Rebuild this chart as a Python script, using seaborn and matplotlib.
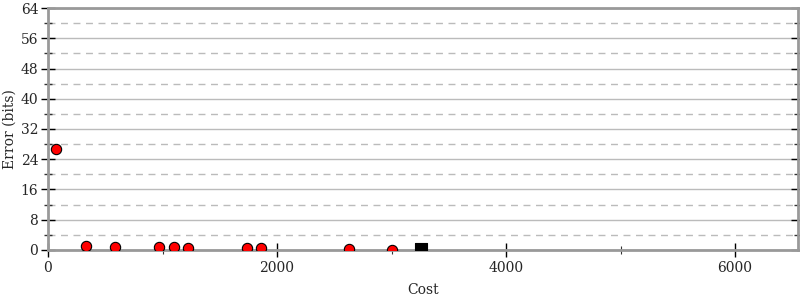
import matplotlib
matplotlib.use("Agg")
import matplotlib.pyplot as plt
import seaborn as sns
import pandas as pd
from matplotlib.ticker import MultipleLocator

sns.set_style("white")
plt.rcParams['font.family'] = ['DejaVu Serif']

cost = [70, 332, 585, 969, 1100, 1223, 1738, 1860, 2629, 3004]
error = [26.7, 1.0, 0.8, 0.7, 0.7, 0.6, 0.5, 0.4, 0.3, 0.0]
best_cost = [3258]
best_error = [0.3]

df = pd.DataFrame({"Cost": cost, "Error": error})
dfb = pd.DataFrame({"Cost": best_cost, "Error": best_error})

fig = plt.figure(figsize=(8, 3), dpi=100)
ax = fig.add_axes([0.06, 0.1667, 0.9375, 0.8066])

ax.set_xlim(0, 6550)
ax.set_ylim(0, 64)
ax.xaxis.set_major_locator(MultipleLocator(2000))
ax.xaxis.set_minor_locator(MultipleLocator(1000))
ax.yaxis.set_major_locator(MultipleLocator(8))
ax.yaxis.set_minor_locator(MultipleLocator(4))

ax.grid(which='major', axis='y', color='#bbbbbb', linewidth=1, linestyle='-')
ax.grid(which='minor', axis='y', color='#bbbbbb', linewidth=1, linestyle=(0, (5, 4)))
ax.set_axisbelow(True)

sns.scatterplot(data=df, x="Cost", y="Error", ax=ax, color='red', edgecolor='black',
                linewidth=0.8, s=55, marker='o', zorder=3)
sns.scatterplot(data=dfb, x="Cost", y="Error", ax=ax, color='black', edgecolor='black',
                linewidth=0.8, s=70, marker='s', zorder=3)

for side in ['left', 'right', 'top', 'bottom']:
    ax.spines[side].set_color('#999999')
    ax.spines[side].set_linewidth(2)
    ax.spines[side].set_visible(True)

ax.tick_params(axis='y', which='major', direction='inout', length=10, width=1, color='black',
               left=True, right=True, labelsize=10, pad=2)
ax.tick_params(axis='y', which='minor', direction='inout', length=6, width=1, color='#333333',
               left=True, right=True)
ax.tick_params(axis='x', which='major', direction='inout', length=10, width=1, color='black',
               bottom=True, top=False, labelsize=10, pad=3)
ax.tick_params(axis='x', which='minor', direction='inout', length=6, width=0.8, color='#333333',
               bottom=True, top=False)

ax.set_xlabel("Cost", fontsize=10, labelpad=6)
ax.set_ylabel("Error (bits)", fontsize=10, labelpad=3)

fig.savefig("out.png", dpi=100)
